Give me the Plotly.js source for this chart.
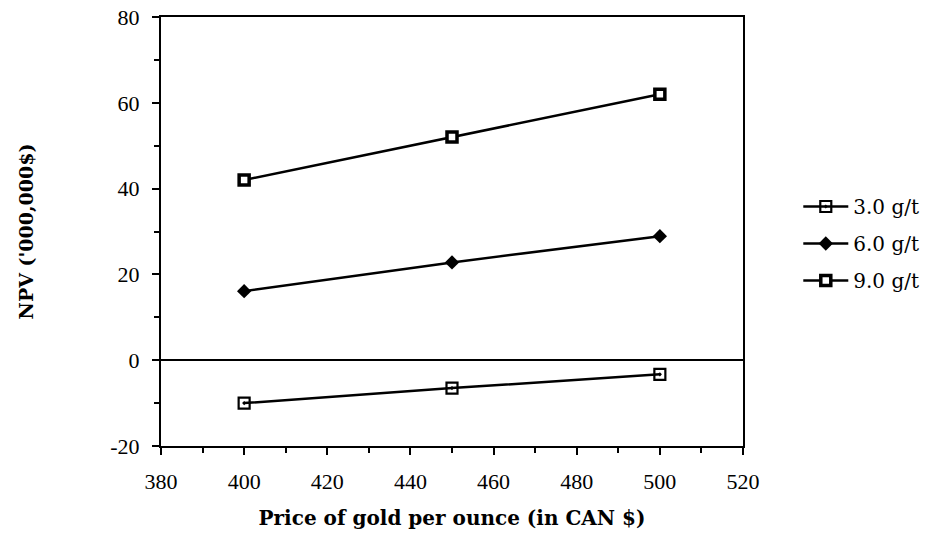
<!DOCTYPE html>
<html>
<head>
<meta charset="utf-8">
<script src="https://cdn.plot.ly/plotly-3.0.1.min.js"></script>
<style>html,body{margin:0;padding:0;background:#fff;}#chart{width:945px;height:541px;}</style>
</head>
<body>
<div id="chart"></div>
<script>
const price = [400, 450, 500];
const npv3 = [-10.0, -6.5, -3.3];
const npv6 = [16.1, 22.8, 28.9];
const npv9 = [42.0, 52.0, 62.0];
const seriesNames = ["3.0 g/t", "6.0 g/t", "9.0 g/t"];
const yTickVals = [-20, 0, 20, 40, 60, 80];
const yTickText = ["-20", "0", "20", "40", "60", "80"];

const font = "DejaVu Serif, Liberation Serif, serif";
const tickFont = "'Liberation Serif', 'Times New Roman', serif";
const traces = [
  {x: price, y: npv3, name: seriesNames[0], legendgroup: "a", mode: "lines+markers",
   line: {color: "#000", width: 2.5},
   marker: {symbol: "square-open-dot", size: 11, color: "#000", line: {width: 2.2, color: "#000"}}},
  {x: price, y: npv6, name: seriesNames[1], legendgroup: "b", mode: "lines+markers",
   line: {color: "#000", width: 2.5},
   marker: {symbol: "diamond", size: 11, color: "#000", line: {width: 0}}},
  {x: price, y: npv9, name: seriesNames[2], legendgroup: "c", mode: "lines+markers",
   line: {color: "#000", width: 2.5},
   marker: {symbol: "square", size: 10, color: "#fff", line: {width: 3.5, color: "#000"}}}
];

const layout = {
  width: 945, height: 541,
  margin: {l: 161, r: 202, t: 17, b: 95},
  paper_bgcolor: "#fff", plot_bgcolor: "#fff",
  font: {family: font, color: "#000", size: 17},
  showlegend: true,
  legend: {x: 1.095, y: 0.472, xanchor: "left", yanchor: "middle", traceorder: "grouped",
    font: {family: font, size: 20, color: "#000"}, tracegroupgap: 8, itemwidth: 45},
  xaxis: {range: [380, 520], dtick: 20, tick0: 380, showgrid: false, zeroline: false,
    showline: true, linecolor: "#000", linewidth: 2, mirror: true,
    ticks: "outside", ticklen: 7, tickwidth: 2, tickcolor: "#000", ticklabelstandoff: 8,
    minor: {dtick: 10, ticks: "outside", ticklen: 5, tickwidth: 2, tickcolor: "#000", showgrid: false},
    tickfont: {family: tickFont, size: 22},
    title: {text: "<b>Price of gold per ounce (in CAN $)</b>", font: {family: font, size: 20}, standoff: 18}},
  yaxis: {range: [-20, 80], tickmode: "array", tickvals: yTickVals, ticktext: yTickText, showgrid: false,
    zeroline: true, zerolinecolor: "#000", zerolinewidth: 1.5,
    showline: true, linecolor: "#000", linewidth: 2, mirror: true,
    ticks: "outside", ticklen: 7, tickwidth: 2, tickcolor: "#000", ticklabelstandoff: 8,
    minor: {tickmode: "linear", tick0: -20, dtick: 10, ticks: "outside", ticklen: 5, tickwidth: 2, tickcolor: "#000", showgrid: false},
    tickfont: {family: tickFont, size: 22},
    title: {text: "<b>NPV ('000,000$)</b>", font: {family: font, size: 19}, standoff: 72}}
};

Plotly.newPlot("chart", traces, layout, {displayModeBar: false, staticPlot: true});
</script>
</body>
</html>
